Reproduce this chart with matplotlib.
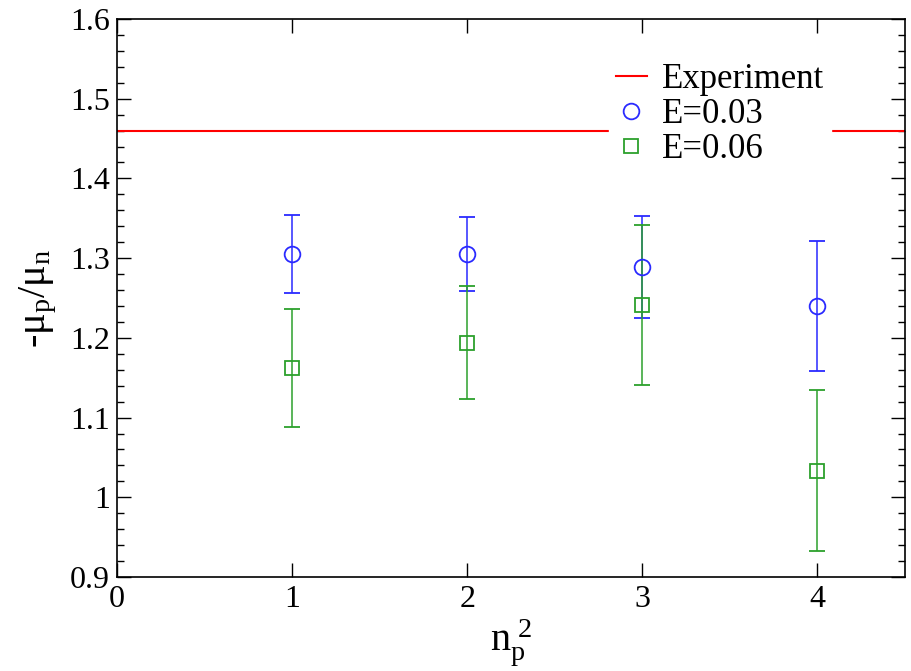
import matplotlib
matplotlib.use('Agg')
import matplotlib.pyplot as plt
from matplotlib.lines import Line2D
from matplotlib.ticker import MultipleLocator

plt.rcParams['font.family'] = ['Liberation Serif', 'DejaVu Serif']
plt.rcParams['mathtext.fontset'] = 'custom'
plt.rcParams['mathtext.rm'] = 'Liberation Serif'
plt.rcParams['mathtext.it'] = 'Liberation Serif:italic'
plt.rcParams['mathtext.bf'] = 'Liberation Serif:bold'

# data
n2 = [1, 2, 3, 4]
ratio_e003 = [1.305, 1.305, 1.289, 1.240]
err_e003 = [0.049, 0.046, 0.064, 0.081]
ratio_e006 = [1.162, 1.194, 1.241, 1.033]
err_e006 = [0.074, 0.071, 0.100, 0.101]
experiment = 1.46

blue = '#2a2aff'
green = '#2ca02c'
red = '#ff0000'

fig = plt.figure(figsize=(9.12, 6.71), dpi=100)
ax = fig.add_axes([0.1283, 0.1401, 0.8640, 0.8316])

ax.axhline(experiment, color=red, lw=1.5)
ax.errorbar(n2, ratio_e003, yerr=err_e003, fmt='o', color=blue, mfc='none',
            ms=11.3, mew=1.3, elinewidth=1.1, capsize=5.6, capthick=1.1)
ax.errorbar(n2, ratio_e006, yerr=err_e006, fmt='s', color=green, mfc='none',
            ms=9.6, mew=1.3, elinewidth=1.1, capsize=5.6, capthick=1.1)

ax.set_xlim(0, 4.5)
ax.set_ylim(0.9, 1.6)
ax.xaxis.set_major_locator(MultipleLocator(1))
ax.yaxis.set_minor_locator(MultipleLocator(0.02))
ax.set_yticks([0.9, 1.0, 1.1, 1.2, 1.3, 1.4, 1.5, 1.6])
ax.set_yticklabels(['0.9', '1', '1.1', '1.2', '1.3', '1.4', '1.5', '1.6'])
ax.tick_params(which='both', direction='in', top=True, right=True, labelsize=23)
ax.tick_params(which='major', length=10, width=1)
ax.tick_params(which='minor', length=5, width=1)
ax.tick_params(axis='x', pad=6)
ax.tick_params(axis='y', pad=5)
for s in ax.spines.values():
    s.set_linewidth(1.2)

ax.set_ylabel(r'-$\mathrm{\mu_p/\mu_n}$', fontsize=29, labelpad=8)
ax.set_xlabel(r'$\mathrm{n_p^{\ 2}}$', fontsize=29, labelpad=2)

handles = [Line2D([], [], color=red, lw=1.5),
           Line2D([], [], ls='none', marker='o', color=blue, mfc='none', ms=11.3, mew=1.3),
           Line2D([], [], ls='none', marker='s', color=green, mfc='none', ms=9.6, mew=1.3)]
labels = ['Experiment', 'E=0.03', 'E=0.06']
ax.legend(handles, labels, loc='upper left', bbox_to_anchor=(0.624, 0.933), fontsize=25,
          frameon=True, fancybox=False, edgecolor='white', facecolor='white',
          framealpha=1, handlelength=0.9, handletextpad=0.43, labelspacing=0.05,
          borderpad=0.2, borderaxespad=0)

fig.savefig('out.png', dpi=100)
